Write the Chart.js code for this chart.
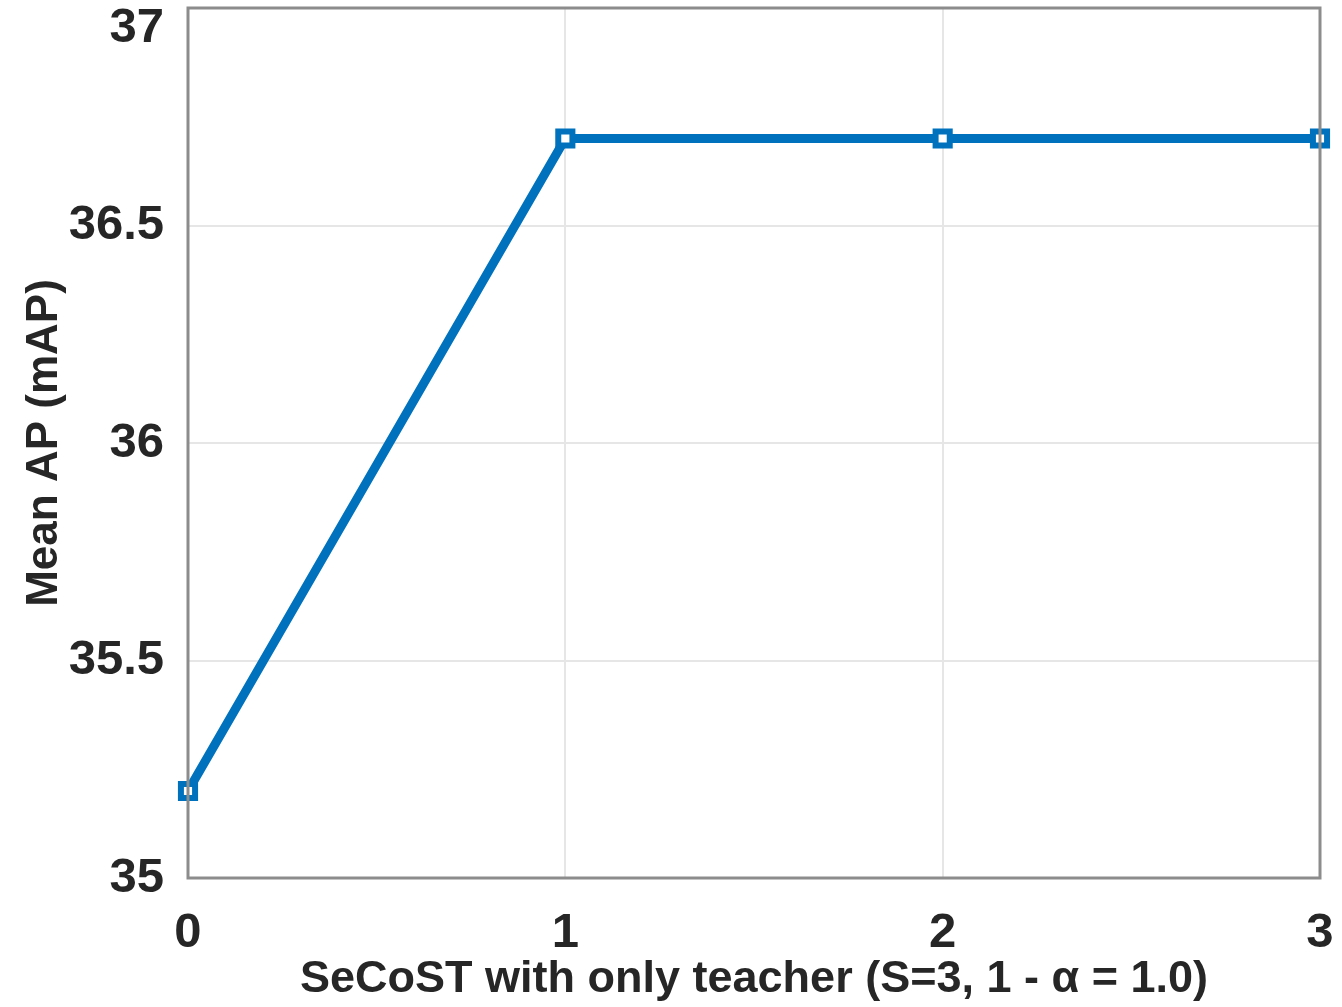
<!DOCTYPE html>
<html>
<head>
<meta charset="utf-8">
<script src="https://cdn.jsdelivr.net/npm/chart.js@4.4.1/dist/chart.umd.min.js"></script>
<style>
  html, body { margin: 0; padding: 0; background: #fff; }
  #wrap { width: 1342px; height: 1007px; }
</style>
</head>
<body>
<div id="wrap"><canvas id="apChart"></canvas></div>
<script>
const steps = ['0', '1', '2', '3'];
const meanAP = [35.2, 36.7, 36.7, 36.7];
// top label gets an empty first line so it sits below the edge like matlab does
const yTickLabels = ['35', '35.5', '36', '36.5', ['', '37']];

// box round the plot area, like matlab's "box on"
const boxPlugin = {
    id: 'box',
    afterDatasetsDraw(chart) {
        const { ctx, chartArea: a } = chart;
        ctx.save();
        ctx.strokeStyle = '#8c8c8c';
        ctx.lineWidth = 3;
        ctx.strokeRect(a.left, a.top, a.right - a.left, a.bottom - a.top);
        ctx.restore();
    }
};

const ctx = document.getElementById('apChart').getContext('2d');
new Chart(ctx, {
    type: 'line',
    data: {
        labels: steps,
        datasets: [{
            data: meanAP,
            borderColor: '#0072BD',
            borderWidth: 9,
            pointStyle: 'rect',
            pointRadius: 10,
            pointBorderWidth: 6,
            pointBackgroundColor: '#ffffff',
            pointBorderColor: '#0072BD',
            tension: 0,
            clip: false
        }]
    },
    options: {
        responsive: true,
        maintainAspectRatio: false,
        animation: false,
        layout: { autoPadding: false, padding: { top: 8, right: 22, left: 0, bottom: 0 } },
        plugins: {
            legend: { display: false },
            tooltip: { enabled: false }
        },
        scales: {
            x: {
                offset: false,
                grid: { color: '#e6e6e6', lineWidth: 2, drawTicks: false },
                border: { display: false },
                ticks: {
                    color: '#262626',
                    padding: 26,
                    maxRotation: 0,
                    font: { family: 'Liberation Sans', weight: 'bold', size: 49 }
                },
                title: {
                    display: true,
                    text: 'SeCoST with only teacher (S=3, 1 - α = 1.0)',
                    color: '#262626',
                    padding: { top: 9, bottom: 0 },
                    font: { family: 'Liberation Sans', weight: 'bold', size: 45 }
                },
                afterFit: s => {
                    s.height = 129;
                    s.paddingLeft = 0;
                    s.paddingRight = 0;
                }
            },
            y: {
                min: 35,
                max: 37,
                grid: { color: '#e6e6e6', lineWidth: 2, drawTicks: false },
                border: { display: false },
                ticks: {
                    stepSize: 0.5,
                    color: '#262626',
                    padding: 24,
                    font: { family: 'Liberation Sans', weight: 'bold', size: 49, lineHeight: 0.85 },
                    callback: (v, i) => yTickLabels[i]
                },
                title: {
                    display: true,
                    text: 'Mean AP (mAP)',
                    color: '#262626',
                    padding: { top: 18, bottom: 0 },
                    font: { family: 'Liberation Sans', weight: 'bold', size: 44 }
                },
                afterFit: s => {
                    s.width = 188;
                    s.paddingTop = 0;
                    s.paddingBottom = 0;
                }
            }
        }
    },
    plugins: [boxPlugin]
});
</script>
</body>
</html>
